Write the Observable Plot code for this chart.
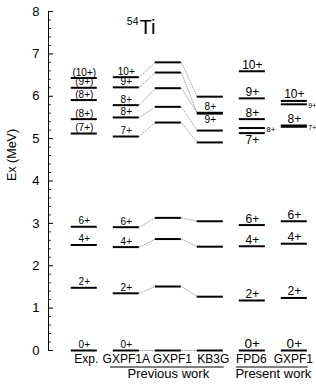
<!DOCTYPE html>
<html><head><meta charset="utf-8">
<script src="https://cdn.jsdelivr.net/npm/d3@7"></script>
<script src="https://cdn.jsdelivr.net/npm/@observablehq/plot@0.6"></script>
<style>
body{margin:0;background:#fff}
#chart svg{font-family:"Liberation Sans",Arial,Helvetica,sans-serif}
</style>
</head><body><div id="chart"></div>
<script>
// ---- data ----
const models = ["Exp.", "GXPF1A", "GXPF1", "KB3G", "FPD6", "GXPF1"];
const groupNames = ["Previous work", "Present work"];
const groupFirst = [1, 4];
const groupLast = [3, 5];
const yTicks = [0, 1, 2, 3, 4, 5, 6, 7, 8];
const title = "Ti";
const titleMass = "54";
const yLabel = "Ex (MeV)";

// level order: 0+, 2+, 4+, 6+, 7+, 8+, 8+, 9+, 10+
const expE    = [0, 1.48, 2.49, 2.92, 5.12, 5.46, 5.91, 6.20, 6.43];
const expL    = ["0+", "2+", "4+", "6+", "(7+)", "(8+)", "(8+)", "(9+)", "(10+)"];
const gxpf1aE = [0, 1.35, 2.44, 2.91, 5.05, 5.50, 5.79, 6.21, 6.45];
const gxpf1aL = ["0+", "2+", "4+", "6+", "7+", "8+", "8+", "9+", "10+"];
const gxpf1E  = [0, 1.51, 2.63, 3.13, 5.38, 5.75, 6.19, 6.56, 6.80];
const gxpf1L  = [null, null, null, null, null, null, null, null, null];
const kb3gE   = [0, 1.27, 2.45, 3.05, 4.91, 5.19, 5.61, 5.59, 5.99];
const kb3gL   = [null, null, null, null, null, null, "8+", "9+", null];
const fpd6E   = [0, 1.18, 2.46, 2.96, 5.13, 5.25, 5.46, 5.95, 6.59];
const fpd6L   = ["0+", "2+", "4+", "6+", "7+", "8+", "8+", "9+", "10+"];
const gxpf1pE = [0, 1.24, 2.52, 3.05, 5.28, 5.31, null, 5.81, 5.89];
const gxpf1pL = ["0+", "2+", "4+", "6+", "7+", "8+", null, "9+", "10+"];

// ---- build tables ----
const colE = [expE, gxpf1aE, gxpf1E, kb3gE, fpd6E, gxpf1pE];
const colL = [expL, gxpf1aL, gxpf1L, kb3gL, fpd6L, gxpf1pL];
const hw = 0.31; // half width of a level, in column units
const levels = [];
colE.forEach((arr, c) => arr.forEach((e, k) => { if (e != null) levels.push({c, k, e, label: colL[c][k]}); }));

// label placement (style)
function place(d) {
  if (d.c === 3 && d.k === 7) return "below";
  if (d.c === 4 && d.k === 4) return "below";
  if (d.c === 4 && d.k === 5) return "right";
  if (d.c === 5 && (d.k === 4 || d.k === 7)) return "right";
  return "above";
}
const labeled = levels.filter(d => d.label);
const above = labeled.filter(d => place(d) === "above");
const below = labeled.filter(d => place(d) === "below");
const right = labeled.filter(d => place(d) === "right");
const fs = d => d.c >= 4 ? (d.k === 0 ? 13.5 : 12) : 10;
const fsR = d => d.c === 5 ? 7 : 8;

const links = [];
[1, 2].forEach(c => colE[c].forEach((e, k) => {
  const e2 = colE[c + 1][k];
  if (e != null && e2 != null) links.push({x1: c + hw, x2: c + 1 - hw, y1: e, y2: e2});
}));

const groups = groupNames.map((name, i) => ({name, a: groupFirst[i], b: groupLast[i]}));

const xDom = [-0.852, 5.528];
const width = 316, marginLeft = 48, marginRight = 0;
const pxPerUnit = (width - marginLeft - marginRight) / (xDom[1] - xDom[0]);
const minor = d3.range(0, 8.001, 0.2).filter(v => Math.abs(v - Math.round(v)) > 1e-6);
const labelShift = [2, 0, 4, 3, -1, -1]; // px nudges of column names (style)

const chart = Plot.plot({
  width, height: 387,
  marginLeft, marginRight, marginTop: 11, marginBottom: 37,
  x: {domain: xDom, axis: null},
  y: {domain: [0, 8], axis: null},
  style: {fontFamily: '"Liberation Sans", Arial, Helvetica, sans-serif', color: "#000", background: "#fff"},
  marks: [
    // y axis
    Plot.ruleX([xDom[0]], {y1: 0, y2: 8, stroke: "#000", strokeWidth: 1}),
    Plot.ruleY(yTicks, {y: d => d, x1: xDom[0], x2: xDom[0] + 5 / pxPerUnit, stroke: "#000", strokeWidth: 1}),
    Plot.ruleY(minor, {y: d => d, x1: xDom[0], x2: xDom[0] + 3 / pxPerUnit, stroke: "#000", strokeWidth: 0.8}),
    Plot.axisY({ticks: yTicks, tickSize: 0, tickPadding: 9, fontSize: 13, label: null, tickFormat: d => String(d)}),
    Plot.text([yLabel], {frameAnchor: "left", dx: -37, rotate: -90, fontSize: 12.5, text: d => d, fill: "#000"}),
    // connectors
    Plot.link(links, {x1: "x1", x2: "x2", y1: "y1", y2: "y2", stroke: "#777", strokeWidth: 0.7, strokeDasharray: "1.6,0.8"}),
    // levels
    Plot.ruleY(levels, {y: "e", x1: d => d.c - hw, x2: d => d.c + hw, stroke: "#000", strokeWidth: 2}),
    // level labels
    Plot.text(above, {x: "c", y: "e", text: "label", dy: -2.5, lineAnchor: "bottom", fontSize: fs, fill: "#000"}),
    Plot.text(below, {x: "c", y: "e", text: "label", dy: 2.5, lineAnchor: "top", fontSize: fs, fill: "#000"}),
    Plot.text(right, {x: d => d.c + hw, y: "e", text: "label", dx: 1, dy: 1, textAnchor: "start", fontSize: fsR, fill: "#000"}),
    // title
    Plot.text([titleMass], {frameAnchor: "top-left", dx: 90, dy: 13, textAnchor: "end", lineAnchor: "bottom", fontSize: 10.5, text: d => d, fill: "#000"}),
    Plot.text([title], {frameAnchor: "top-left", dx: 91, dy: 22, textAnchor: "start", lineAnchor: "bottom", fontSize: 20, text: d => d, fill: "#000"}),
    // column labels
    ...models.map((m, i) => Plot.text([m], {x: () => i, frameAnchor: "bottom", dx: labelShift[i], dy: 12.5, lineAnchor: "bottom", fontSize: 12, letterSpacing: -0.4, text: d => d, fill: "#000"})),
    // groups
    Plot.ruleY(groups, {y: () => 0, x1: d => d.a - 0.38, x2: d => d.b + 0.33, dy: 16.5, stroke: "#000", strokeWidth: 1}),
    Plot.text(groups, {x: d => (d.a + d.b) / 2, frameAnchor: "bottom", dy: 27, lineAnchor: "bottom", fontSize: 13, text: "name", fill: "#000"})
  ]
});
document.getElementById("chart").appendChild(chart);
</script>
</body></html>
